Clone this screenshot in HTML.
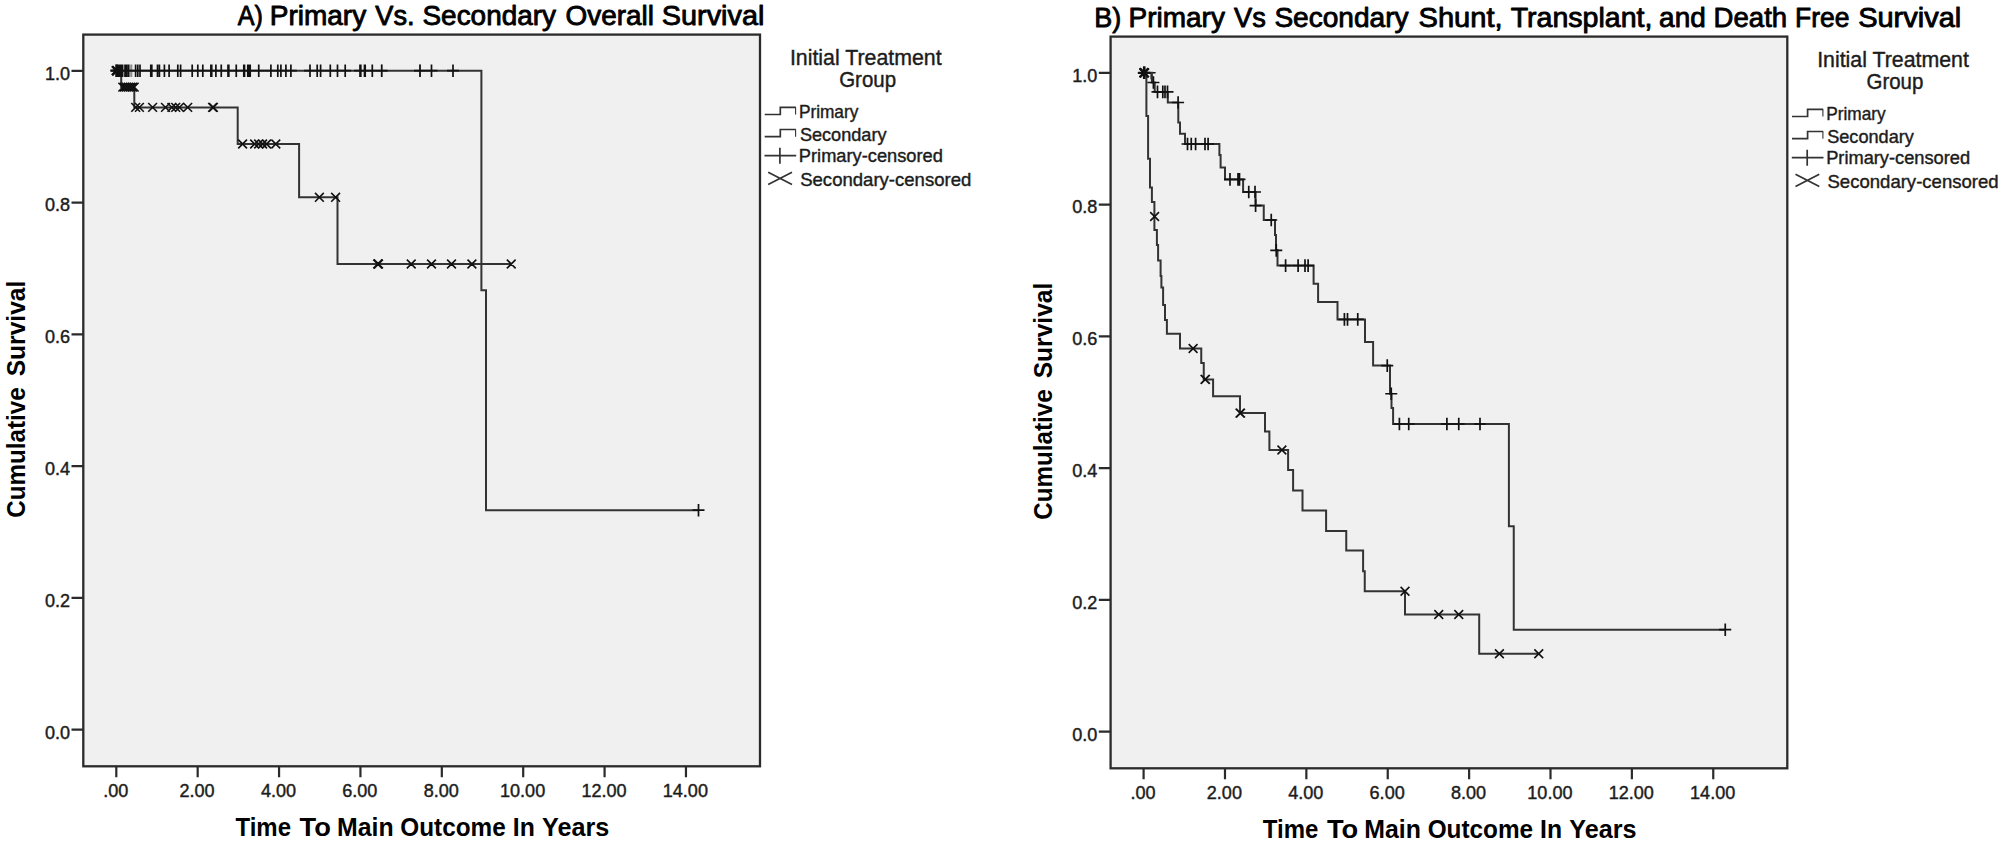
<!DOCTYPE html>
<html lang="en">
<head>
<meta charset="utf-8">
<title>Primary vs Secondary Survival</title>
<style>
html,body{margin:0;padding:0;background:#fff;}
body{width:2006px;height:848px;overflow:hidden;}
svg{display:block;}
svg text{font-family:"Liberation Sans", sans-serif;fill:#1c1c1c;}
svg text.k{fill:#000;}
</style>
</head>
<body>
<svg width="2006" height="848" viewBox="0 0 2006 848">
<rect x="0" y="0" width="2006" height="848" fill="#fff"/>
<g id="chartA">
<rect x="83.3" y="34.6" width="676.70" height="731.70" fill="#f0f0f0" stroke="#2b2b2b" stroke-width="2.3"/>
<path d="M116.30,766.3V777.30M197.68,766.3V777.30M279.06,766.3V777.30M360.44,766.3V777.30M441.82,766.3V777.30M523.20,766.3V777.30M604.58,766.3V777.30M685.96,766.3V777.30M83.3,729.60H71.50M83.3,597.84H71.50M83.3,466.08H71.50M83.3,334.32H71.50M83.3,202.56H71.50M83.3,70.80H71.50" stroke="#2b2b2b" stroke-width="2.2" fill="none"/>
<g font-size="19" fill="#1c1c1c" stroke="#1c1c1c" stroke-width="0.45">
<text transform="translate(115.70,796.7) scale(0.95,1)" text-anchor="middle">.00</text>
<text transform="translate(197.08,796.7) scale(0.95,1)" text-anchor="middle">2.00</text>
<text transform="translate(278.46,796.7) scale(0.95,1)" text-anchor="middle">4.00</text>
<text transform="translate(359.84,796.7) scale(0.95,1)" text-anchor="middle">6.00</text>
<text transform="translate(441.22,796.7) scale(0.95,1)" text-anchor="middle">8.00</text>
<text transform="translate(522.60,796.7) scale(0.95,1)" text-anchor="middle">10.00</text>
<text transform="translate(603.98,796.7) scale(0.95,1)" text-anchor="middle">12.00</text>
<text transform="translate(685.36,796.7) scale(0.95,1)" text-anchor="middle">14.00</text>
<text transform="translate(70.1,738.50) scale(0.95,1)" text-anchor="end">0.0</text>
<text transform="translate(70.1,606.74) scale(0.95,1)" text-anchor="end">0.2</text>
<text transform="translate(70.1,474.98) scale(0.95,1)" text-anchor="end">0.4</text>
<text transform="translate(70.1,343.22) scale(0.95,1)" text-anchor="end">0.6</text>
<text transform="translate(70.1,211.46) scale(0.95,1)" text-anchor="end">0.8</text>
<text transform="translate(70.1,79.70) scale(0.95,1)" text-anchor="end">1.0</text>
</g>
<path d="M764.7,114.5H780.3V107.4H795.9 M764.7,136.7H780.3V129.5H795.9 M764.5,155.6H796.2M779.9,147.8V163.8 M768.2,172.2L792,184.4M768.2,184.4L792,172.2" stroke="#333" stroke-width="1.7" fill="none"/>
<path d="M795.6,107.4V114.6M795.6,129.5V136.8" stroke="#333" stroke-width="1.1" fill="none"/>
<path d="M110.50,70.70H122.50M116.50,64.40V77.00M112.10,66.30L120.90,75.10M112.10,75.10L120.90,66.30" stroke="#111" stroke-width="2.3" fill="none"/>
<path d="M124.00,70.70H136.00M130.00,64.40V77.00M125.60,70.70H137.60M131.60,64.40V77.00M375.70,70.70H387.70M381.70,64.40V77.00M414.00,70.70H426.00M420.00,64.40V77.00" stroke="#111" stroke-opacity="0.45" stroke-width="1.4" fill="none"/>
<path d="M116.3,70.7H481.4V290.2H486.0V510.2H698.5" stroke="#333" stroke-width="2" fill="none"/>
<path d="M116.3,70.7H121.2V87.1H134.3V107.4H237.7V144H299.1V197.3H337.5V264H511.25" stroke="#333" stroke-width="2" fill="none"/>
<path d="M110.50,70.70H122.50M116.50,64.40V77.00M111.60,70.70H123.60M117.60,64.40V77.00M112.60,70.70H124.60M118.60,64.40V77.00M113.60,70.70H125.60M119.60,64.40V77.00M114.60,70.70H126.60M120.60,64.40V77.00M115.60,70.70H127.60M121.60,64.40V77.00M116.60,70.70H128.60M122.60,64.40V77.00M119.00,70.70H131.00M125.00,64.40V77.00M120.70,70.70H132.70M126.70,64.40V77.00M122.50,70.70H134.50M128.50,64.40V77.00M129.60,70.70H141.60M135.60,64.40V77.00M131.80,70.70H143.80M137.80,64.40V77.00M134.00,70.70H146.00M140.00,64.40V77.00M144.80,70.70H156.80M150.80,64.40V77.00M145.80,70.70H157.80M151.80,64.40V77.00M151.50,70.70H163.50M157.50,64.40V77.00M153.40,70.70H165.40M159.40,64.40V77.00M158.40,70.70H170.40M164.40,64.40V77.00M163.10,70.70H175.10M169.10,64.40V77.00M171.80,70.70H183.80M177.80,64.40V77.00M174.60,70.70H186.60M180.60,64.40V77.00M186.20,70.70H198.20M192.20,64.40V77.00M191.80,70.70H203.80M197.80,64.40V77.00M196.80,70.70H208.80M202.80,64.40V77.00M204.90,70.70H216.90M210.90,64.40V77.00M205.70,70.70H217.70M211.70,64.40V77.00M209.90,70.70H221.90M215.90,64.40V77.00M215.25,70.70H227.25M221.25,64.40V77.00M222.00,70.70H234.00M228.00,64.40V77.00M222.80,70.70H234.80M228.80,64.40V77.00M230.25,70.70H242.25M236.25,64.40V77.00M237.80,70.70H249.80M243.80,64.40V77.00M238.50,70.70H250.50M244.50,64.40V77.00M241.80,70.70H253.80M247.80,64.40V77.00M243.00,70.70H255.00M249.00,64.40V77.00M244.20,70.70H256.20M250.20,64.40V77.00M252.75,70.70H264.75M258.75,64.40V77.00M264.90,70.70H276.90M270.90,64.40V77.00M271.80,70.70H283.80M277.80,64.40V77.00M274.90,70.70H286.90M280.90,64.40V77.00M279.90,70.70H291.90M285.90,64.40V77.00M284.90,70.70H296.90M290.90,64.40V77.00M304.00,70.70H316.00M310.00,64.40V77.00M311.20,70.70H323.20M317.20,64.40V77.00M314.60,70.70H326.60M320.60,64.40V77.00M324.30,70.70H336.30M330.30,64.40V77.00M331.50,70.70H343.50M337.50,64.40V77.00M339.20,70.70H351.20M345.20,64.40V77.00M354.00,70.70H366.00M360.00,64.40V77.00M354.80,70.70H366.80M360.80,64.40V77.00M358.50,70.70H370.50M364.50,64.40V77.00M359.20,70.70H371.20M365.20,64.40V77.00M366.30,70.70H378.30M372.30,64.40V77.00M375.70,70.70H387.70M381.70,64.40V77.00M414.00,70.70H426.00M420.00,64.40V77.00M425.50,70.70H437.50M431.50,64.40V77.00M447.00,70.70H459.00M453.00,64.40V77.00M692.50,510.20H704.50M698.50,503.90V516.50" stroke="#111" stroke-width="1.7" fill="none"/>
<path d="M111.90,66.30L120.70,75.10M111.90,75.10L120.70,66.30M112.60,66.30L121.40,75.10M112.60,75.10L121.40,66.30M118.40,82.70L127.20,91.50M118.40,91.50L127.20,82.70M120.10,82.70L128.90,91.50M120.10,91.50L128.90,82.70M122.10,82.70L130.90,91.50M122.10,91.50L130.90,82.70M124.10,82.70L132.90,91.50M124.10,91.50L132.90,82.70M126.10,82.70L134.90,91.50M126.10,91.50L134.90,82.70M128.10,82.70L136.90,91.50M128.10,91.50L136.90,82.70M129.80,82.70L138.60,91.50M129.80,91.50L138.60,82.70M131.30,103.00L140.10,111.80M131.30,111.80L140.10,103.00M135.00,103.00L143.80,111.80M135.00,111.80L143.80,103.00M148.20,103.00L157.00,111.80M148.20,111.80L157.00,103.00M161.10,103.00L169.90,111.80M161.10,111.80L169.90,103.00M167.50,103.00L176.30,111.80M167.50,111.80L176.30,103.00M171.30,103.00L180.10,111.80M171.30,111.80L180.10,103.00M175.00,103.00L183.80,111.80M175.00,111.80L183.80,103.00M183.30,103.00L192.10,111.80M183.30,111.80L192.10,103.00M208.20,103.00L217.00,111.80M208.20,111.80L217.00,103.00M209.00,103.00L217.80,111.80M209.00,111.80L217.80,103.00M238.20,139.60L247.00,148.40M238.20,148.40L247.00,139.60M250.20,139.60L259.00,148.40M250.20,148.40L259.00,139.60M254.20,139.60L263.00,148.40M254.20,148.40L263.00,139.60M258.20,139.60L267.00,148.40M258.20,148.40L267.00,139.60M262.20,139.60L271.00,148.40M262.20,148.40L271.00,139.60M271.40,139.60L280.20,148.40M271.40,148.40L280.20,139.60M315.00,192.90L323.80,201.70M315.00,201.70L323.80,192.90M331.20,192.90L340.00,201.70M331.20,201.70L340.00,192.90M373.30,259.60L382.10,268.40M373.30,268.40L382.10,259.60M374.10,259.60L382.90,268.40M374.10,268.40L382.90,259.60M406.85,259.60L415.65,268.40M406.85,268.40L415.65,259.60M427.10,259.60L435.90,268.40M427.10,268.40L435.90,259.60M447.10,259.60L455.90,268.40M447.10,268.40L455.90,259.60M467.50,259.60L476.30,268.40M467.50,268.40L476.30,259.60M506.85,259.60L515.65,268.40M506.85,268.40L515.65,259.60" stroke="#111" stroke-width="1.6" fill="none"/>
</g>
<g id="chartB" transform="translate(1027.3,2.0)">
<rect x="83.3" y="34.6" width="676.70" height="731.70" fill="#f0f0f0" stroke="#2b2b2b" stroke-width="2.3"/>
<path d="M116.30,766.3V777.30M197.68,766.3V777.30M279.06,766.3V777.30M360.44,766.3V777.30M441.82,766.3V777.30M523.20,766.3V777.30M604.58,766.3V777.30M685.96,766.3V777.30M83.3,729.60H71.50M83.3,597.84H71.50M83.3,466.08H71.50M83.3,334.32H71.50M83.3,202.56H71.50M83.3,70.80H71.50" stroke="#2b2b2b" stroke-width="2.2" fill="none"/>
<g font-size="19" fill="#1c1c1c" stroke="#1c1c1c" stroke-width="0.45">
<text transform="translate(115.70,796.7) scale(0.95,1)" text-anchor="middle">.00</text>
<text transform="translate(197.08,796.7) scale(0.95,1)" text-anchor="middle">2.00</text>
<text transform="translate(278.46,796.7) scale(0.95,1)" text-anchor="middle">4.00</text>
<text transform="translate(359.84,796.7) scale(0.95,1)" text-anchor="middle">6.00</text>
<text transform="translate(441.22,796.7) scale(0.95,1)" text-anchor="middle">8.00</text>
<text transform="translate(522.60,796.7) scale(0.95,1)" text-anchor="middle">10.00</text>
<text transform="translate(603.98,796.7) scale(0.95,1)" text-anchor="middle">12.00</text>
<text transform="translate(685.36,796.7) scale(0.95,1)" text-anchor="middle">14.00</text>
<text transform="translate(70.1,738.50) scale(0.95,1)" text-anchor="end">0.0</text>
<text transform="translate(70.1,606.74) scale(0.95,1)" text-anchor="end">0.2</text>
<text transform="translate(70.1,474.98) scale(0.95,1)" text-anchor="end">0.4</text>
<text transform="translate(70.1,343.22) scale(0.95,1)" text-anchor="end">0.6</text>
<text transform="translate(70.1,211.46) scale(0.95,1)" text-anchor="end">0.8</text>
<text transform="translate(70.1,79.70) scale(0.95,1)" text-anchor="end">1.0</text>
</g>
<path d="M764.7,114.5H780.3V107.4H795.9 M764.7,136.7H780.3V129.5H795.9 M764.5,155.6H796.2M779.9,147.8V163.8 M768.2,172.2L792,184.4M768.2,184.4L792,172.2" stroke="#333" stroke-width="1.7" fill="none"/>
<path d="M795.6,107.4V114.6M795.6,129.5V136.8" stroke="#333" stroke-width="1.1" fill="none"/>
</g>
<g id="chartBdata">
<path d="M1146,72.8H1155.6M1151.3,72.8V79.2" stroke="#111" stroke-width="1.6" fill="none"/>
<path d="M1138.10,72.80H1150.10M1144.10,66.50V79.10M1139.70,68.40L1148.50,77.20M1139.70,77.20L1148.50,68.40" stroke="#111" stroke-width="2.3" fill="none"/>
<path d="M1143.9,72.8H1151.9V82.5H1154.7V91.9H1167.8V102.5H1178.3V122.5H1180V133.75H1185V144H1219.4V155H1220.6V167.5H1225V179.4H1243.1V192H1255.6V205.6H1263.75V220H1275V235H1276V250H1277.5V265.6H1313.6V283.75H1318.1V301.9H1337.5V319.4H1365V341.9H1373.1V365.6H1390V393.75H1391.5V408H1393.1V424H1508.9V526.25H1513.75V629.7H1725.25" stroke="#333" stroke-width="2" fill="none"/>
<path d="M1143.9,72.8H1146.4V116H1148.1V158.75H1150V187.5H1151.9V201.9H1154.4V230H1156.9V245H1158.1V260.6H1160.6V276H1161.4V287.5H1163.1V305H1165V320H1166.9V333.75H1180V348.5H1201.25V363H1203.75V379.4H1213.1V396.25H1240V413.1H1265V431.6H1269.4V450H1288.1V470H1293.1V490.6H1302.5V510.6H1326.1V531H1346.25V550.6H1363.1V571.25H1364.75V591.25H1405V614.5H1479.2V653.75H1538.75" stroke="#333" stroke-width="2" fill="none"/>
<path d="M1137.80,72.80H1149.80M1143.80,66.50V79.10M1138.60,72.80H1150.60M1144.60,66.50V79.10M1147.40,82.50H1159.40M1153.40,76.20V88.80M1151.50,91.90H1163.50M1157.50,85.60V98.20M1156.80,91.90H1168.80M1162.80,85.60V98.20M1159.00,91.90H1171.00M1165.00,85.60V98.20M1161.50,91.90H1173.50M1167.50,85.60V98.20M1172.10,102.50H1184.10M1178.10,96.20V108.80M1181.50,144.00H1193.50M1187.50,137.70V150.30M1185.25,144.00H1197.25M1191.25,137.70V150.30M1189.60,144.00H1201.60M1195.60,137.70V150.30M1199.00,144.00H1211.00M1205.00,137.70V150.30M1202.10,144.00H1214.10M1208.10,137.70V150.30M1224.00,179.40H1236.00M1230.00,173.10V185.70M1232.00,179.40H1244.00M1238.00,173.10V185.70M1233.50,179.40H1245.50M1239.50,173.10V185.70M1242.75,192.00H1254.75M1248.75,185.70V198.30M1249.00,192.00H1261.00M1255.00,185.70V198.30M1249.60,205.60H1261.60M1255.60,199.30V211.90M1265.25,220.00H1277.25M1271.25,213.70V226.30M1270.25,250.40H1282.25M1276.25,244.10V256.70M1279.60,265.60H1291.60M1285.60,259.30V271.90M1292.10,265.60H1304.10M1298.10,259.30V271.90M1299.00,265.60H1311.00M1305.00,259.30V271.90M1302.10,265.60H1314.10M1308.10,259.30V271.90M1338.40,319.40H1350.40M1344.40,313.10V325.70M1341.50,319.40H1353.50M1347.50,313.10V325.70M1351.75,319.40H1363.75M1357.75,313.10V325.70M1381.25,365.60H1393.25M1387.25,359.30V371.90M1385.25,393.75H1397.25M1391.25,387.45V400.05M1393.40,424.00H1405.40M1399.40,417.70V430.30M1402.75,424.00H1414.75M1408.75,417.70V430.30M1440.90,424.00H1452.90M1446.90,417.70V430.30M1452.75,424.00H1464.75M1458.75,417.70V430.30M1474.00,424.00H1486.00M1480.00,417.70V430.30M1719.25,629.70H1731.25M1725.25,623.40V636.00" stroke="#111" stroke-width="1.7" fill="none"/>
<path d="M1139.40,68.40L1148.20,77.20M1139.40,77.20L1148.20,68.40M1140.20,68.40L1149.00,77.20M1140.20,77.20L1149.00,68.40M1150.20,212.10L1159.00,220.90M1150.20,220.90L1159.00,212.10M1188.70,344.10L1197.50,352.90M1188.70,352.90L1197.50,344.10M1200.60,375.00L1209.40,383.80M1200.60,383.80L1209.40,375.00M1201.10,375.00L1209.90,383.80M1201.10,383.80L1209.90,375.00M1235.60,408.70L1244.40,417.50M1235.60,417.50L1244.40,408.70M1236.20,408.70L1245.00,417.50M1236.20,417.50L1245.00,408.70M1277.50,445.60L1286.30,454.40M1277.50,454.40L1286.30,445.60M1400.60,586.85L1409.40,595.65M1400.60,595.65L1409.40,586.85M1434.35,610.10L1443.15,618.90M1434.35,618.90L1443.15,610.10M1454.35,610.10L1463.15,618.90M1454.35,618.90L1463.15,610.10M1495.00,649.35L1503.80,658.15M1495.00,658.15L1503.80,649.35M1534.35,649.35L1543.15,658.15M1534.35,658.15L1543.15,649.35" stroke="#111" stroke-width="1.6" fill="none"/>
</g>
<g id="labels">
<text transform="translate(0,24.60)" font-size="27.2" class="k" stroke="#000" stroke-width="0.85" stroke-linejoin="round"><tspan x="237.73" textLength="25.08" lengthAdjust="spacingAndGlyphs">A)</tspan> <tspan x="269.79" textLength="96.39" lengthAdjust="spacingAndGlyphs">Primary</tspan> <tspan x="375.32" textLength="39.24" lengthAdjust="spacingAndGlyphs">Vs.</tspan> <tspan x="422.51" textLength="133.47" lengthAdjust="spacingAndGlyphs">Secondary</tspan> <tspan x="565.51" textLength="88.50" lengthAdjust="spacingAndGlyphs">Overall</tspan> <tspan x="661.77" textLength="102.60" lengthAdjust="spacingAndGlyphs">Survival</tspan></text>
<text transform="translate(0,26.80)" font-size="27.2" class="k" stroke="#000" stroke-width="0.85" stroke-linejoin="round"><tspan x="1094.37" textLength="26.93" lengthAdjust="spacingAndGlyphs">B)</tspan> <tspan x="1128.59" textLength="96.29" lengthAdjust="spacingAndGlyphs">Primary</tspan> <tspan x="1234.02" textLength="31.77" lengthAdjust="spacingAndGlyphs">Vs</tspan> <tspan x="1274.40" textLength="134.17" lengthAdjust="spacingAndGlyphs">Secondary</tspan> <tspan x="1418.56" textLength="84.07" lengthAdjust="spacingAndGlyphs">Shunt,</tspan> <tspan x="1510.65" textLength="141.73" lengthAdjust="spacingAndGlyphs">Transplant,</tspan> <tspan x="1659.11" textLength="46.64" lengthAdjust="spacingAndGlyphs">and</tspan> <tspan x="1713.62" textLength="73.50" lengthAdjust="spacingAndGlyphs">Death</tspan> <tspan x="1795.01" textLength="54.42" lengthAdjust="spacingAndGlyphs">Free</tspan> <tspan x="1858.17" textLength="103.11" lengthAdjust="spacingAndGlyphs">Survival</tspan></text>
<text transform="translate(0,835.60)" font-size="25.2" class="k" font-weight="bold"><tspan x="235.46" textLength="55.57" lengthAdjust="spacingAndGlyphs">Time</tspan> <tspan x="299.63" textLength="31.31" lengthAdjust="spacingAndGlyphs">To</tspan> <tspan x="337.01" textLength="56.60" lengthAdjust="spacingAndGlyphs">Main</tspan> <tspan x="400.33" textLength="105.41" lengthAdjust="spacingAndGlyphs">Outcome</tspan> <tspan x="512.82" textLength="21.99" lengthAdjust="spacingAndGlyphs">In</tspan> <tspan x="542.05" textLength="67.26" lengthAdjust="spacingAndGlyphs">Years</tspan></text>
<text transform="translate(24.60,1000) rotate(-90)" font-size="25.2" class="k" font-weight="bold"><tspan x="482.23" textLength="130.40" lengthAdjust="spacingAndGlyphs">Cumulative</tspan> <tspan x="623.71" textLength="95.66" lengthAdjust="spacingAndGlyphs">Survival</tspan></text>
<text transform="translate(0,837.60)" font-size="25.2" class="k" font-weight="bold"><tspan x="1262.76" textLength="55.57" lengthAdjust="spacingAndGlyphs">Time</tspan> <tspan x="1326.93" textLength="31.31" lengthAdjust="spacingAndGlyphs">To</tspan> <tspan x="1364.31" textLength="56.60" lengthAdjust="spacingAndGlyphs">Main</tspan> <tspan x="1427.63" textLength="105.41" lengthAdjust="spacingAndGlyphs">Outcome</tspan> <tspan x="1540.12" textLength="21.99" lengthAdjust="spacingAndGlyphs">In</tspan> <tspan x="1569.35" textLength="67.26" lengthAdjust="spacingAndGlyphs">Years</tspan></text>
<text transform="translate(1051.90,1000) rotate(-90)" font-size="25.2" class="k" font-weight="bold"><tspan x="480.23" textLength="130.40" lengthAdjust="spacingAndGlyphs">Cumulative</tspan> <tspan x="621.71" textLength="95.66" lengthAdjust="spacingAndGlyphs">Survival</tspan></text>
<text transform="translate(789.88,65.20) scale(0.9963,1)" font-size="21.4" stroke="#1c1c1c" stroke-width="0.4" stroke-linejoin="round">Initial Treatment</text>
<text transform="translate(839.17,86.60) scale(0.9563,1)" font-size="21.4" stroke="#1c1c1c" stroke-width="0.4" stroke-linejoin="round">Group</text>
<text transform="translate(798.91,117.70) scale(0.9704,1)" font-size="17.8" stroke="#1c1c1c" stroke-width="0.4" stroke-linejoin="round">Primary</text>
<text transform="translate(799.88,140.80) scale(1.0190,1)" font-size="17.8" stroke="#1c1c1c" stroke-width="0.4" stroke-linejoin="round">Secondary</text>
<text transform="translate(798.84,162.40) scale(1.0265,1)" font-size="17.8" stroke="#1c1c1c" stroke-width="0.4" stroke-linejoin="round">Primary-censored</text>
<text transform="translate(800.17,185.60) scale(1.0427,1)" font-size="17.8" stroke="#1c1c1c" stroke-width="0.4" stroke-linejoin="round">Secondary-censored</text>
<text transform="translate(1817.18,67.20) scale(0.9963,1)" font-size="21.4" stroke="#1c1c1c" stroke-width="0.4" stroke-linejoin="round">Initial Treatment</text>
<text transform="translate(1866.47,88.60) scale(0.9563,1)" font-size="21.4" stroke="#1c1c1c" stroke-width="0.4" stroke-linejoin="round">Group</text>
<text transform="translate(1826.21,119.70) scale(0.9704,1)" font-size="17.8" stroke="#1c1c1c" stroke-width="0.4" stroke-linejoin="round">Primary</text>
<text transform="translate(1827.18,142.80) scale(1.0190,1)" font-size="17.8" stroke="#1c1c1c" stroke-width="0.4" stroke-linejoin="round">Secondary</text>
<text transform="translate(1826.14,164.40) scale(1.0265,1)" font-size="17.8" stroke="#1c1c1c" stroke-width="0.4" stroke-linejoin="round">Primary-censored</text>
<text transform="translate(1827.47,187.60) scale(1.0427,1)" font-size="17.8" stroke="#1c1c1c" stroke-width="0.4" stroke-linejoin="round">Secondary-censored</text>
</g>
</svg>
</body>
</html>
